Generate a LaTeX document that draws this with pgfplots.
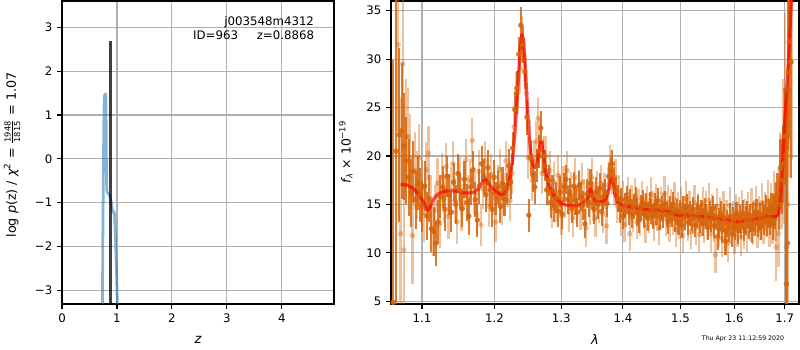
\documentclass[border=0pt]{standalone}
\usepackage{fontspec}
\setmainfont{DejaVu Sans}
\usepackage{pgfplots}
\usepackage{pgfplotstable}
\pgfplotsset{compat=1.18}
\definecolor{orD}{RGB}{214,100,10}
\definecolor{gridgray}{RGB}{176,176,176}
\definecolor{pzblue}{RGB}{31,119,180}

\pgfplotstableread{
l f e
1.0625 4.9 25
1.0665 20.5 16
1.0705 22.2 9
1.0735 22.6 7
1.0765 21.0 5.5
1.0795 19.5 4.5
1.0825 17.8 4
1.0855 16.2 3.5
1.0885 18.4 3.2
1.0915 15.5 3
1.0945 17.2 2.8
1.0975 16.0 2.8
1.1005 14.8 2.6
1.1035 16.9 2.6
1.1065 13.8 2.5
1.1095 15.6 2.4
1.1125 12.5 2.4
1.1155 12.2 2.5
1.1185 11.0 2.3
1.1215 13.2 2.3
1.1245 15.8 2.2
1.1275 16.8 2.2
1.1305 14.5 2.2
1.1335 17.9 2.1
1.1365 16.0 2.1
1.1395 14.2 2.0
1.1425 17.3 2.0
1.1455 15.0 2.0
1.1485 18.2 2.0
1.1515 16.4 1.9
1.1545 14.6 1.9
1.1575 17.6 1.9
1.1605 15.2 1.9
1.1635 13.8 1.9
1.1665 16.8 1.9
1.1695 18.6 1.9
1.1725 15.5 1.8
1.1755 13.4 1.8
1.1785 16.9 1.8
1.1815 19.2 1.8
1.1845 17.9 1.8
1.1875 16.0 1.8
1.1905 18.8 1.8
1.1935 16.5 1.8
1.1965 14.5 1.8
1.1995 17.8 1.8
1.2025 15.6 1.7
1.2055 16.8 1.7
1.2085 14.8 1.7
1.2115 17.2 1.7
1.2145 15.5 1.7
1.2175 16.6 1.7
1.2205 19.0 1.7
1.2235 17.3 1.7
1.2265 20.8 1.7
1.2295 24.8 1.8
1.2325 27.0 1.8
1.2355 30.5 1.8
1.2385 33.5 1.9
1.2415 31.5 1.9
1.2445 28.7 1.8
1.2475 24.0 1.8
1.2505 13.9 1.7
1.2535 19.8 1.7
1.2565 18.0 1.7
1.2595 16.8 1.7
1.2625 19.0 1.7
1.2655 20.5 1.7
1.2685 22.9 1.7
1.2715 20.0 1.7
1.2745 19.0 1.6
1.2775 16.5 1.6
1.2805 17.5 1.6
1.2835 15.2 1.6
1.2865 16.4 1.6
1.2895 14.8 1.6
1.2925 15.7 1.6
1.2955 14.3 1.6
1.2985 16.3 1.6
1.3015 14.0 1.5
1.3045 16.8 1.5
1.3075 17.6 1.5
1.3105 15.5 1.5
1.3135 16.2 1.5
1.3165 14.6 1.5
1.3195 16.9 1.5
1.3225 15.4 1.5
1.3255 14.2 1.5
1.3285 17.0 1.5
1.3315 15.8 1.5
1.3345 14.9 1.5
1.3375 13.0 1.5
1.3405 16.1 1.5
1.3435 15.2 1.5
1.3465 17.2 1.5
1.3495 15.9 1.5
1.3525 14.5 1.5
1.3555 16.3 1.5
1.3585 15.0 1.5
1.3615 16.7 1.5
1.3645 14.3 1.5
1.3675 15.8 1.4
1.3705 16.2 1.4
1.3735 15.1 1.4
1.3765 17.9 1.4
1.3795 18.5 1.4
1.3825 19.2 1.4
1.3855 17.5 1.4
1.3885 16.4 1.4
1.3915 15.6 1.4
1.3945 14.5 1.4
1.3975 15.4 1.3
1.4005 13.8 1.3
1.4035 14.9 1.3
1.4065 15.6 1.3
1.4095 14.2 1.3
1.4125 15.3 1.3
1.4155 13.9 1.3
1.4185 14.8 1.3
1.4215 15.5 1.3
1.4245 14.1 1.3
1.4275 13.4 1.3
1.4305 14.7 1.3
1.4335 15.2 1.3
1.4365 14.0 1.3
1.4395 14.9 1.3
1.4425 13.6 1.3
1.4455 15.0 1.3
1.4485 14.3 1.3
1.4515 13.8 1.3
1.4545 14.9 1.3
1.4575 14.2 1.3
1.4605 15.4 1.3
1.4635 13.7 1.3
1.4665 14.6 1.3
1.4695 13.9 1.3
1.4725 15.1 1.3
1.4755 14.0 1.3
1.4785 13.3 1.3
1.4815 14.6 1.3
1.4845 14.0 1.3
1.4875 15.0 1.3
1.4905 13.5 1.3
1.4935 14.3 1.3
1.4965 13.1 1.3
1.4995 14.2 1.3
1.5025 12.8 1.3
1.5055 14.6 1.3
1.5085 13.7 1.3
1.5115 14.8 1.3
1.5145 13.2 1.3
1.5175 14.1 1.3
1.5205 13.6 1.3
1.5235 14.5 1.3
1.5265 12.9 1.3
1.5295 13.9 1.3
1.5325 14.7 1.3
1.5355 13.4 1.3
1.5385 14.2 1.3
1.5415 13.0 1.3
1.5445 14.4 1.3
1.5475 13.8 1.3
1.5505 12.6 1.3
1.5535 14.1 1.3
1.5565 13.5 1.3
1.5595 14.6 1.3
1.5625 12.8 1.3
1.5655 13.7 1.3
1.5685 11.7 1.4
1.5715 13.2 1.4
1.5745 14.0 1.4
1.5775 12.4 1.4
1.5805 13.6 1.4
1.5835 11.2 1.4
1.5865 13.0 1.4
1.5895 12.5 1.4
1.5925 13.8 1.4
1.5955 12.0 1.4
1.5985 13.3 1.4
1.6015 12.7 1.4
1.6045 13.9 1.4
1.6075 12.3 1.4
1.6105 13.5 1.4
1.6135 12.9 1.4
1.6165 14.1 1.4
1.6195 12.6 1.4
1.6225 13.4 1.4
1.6255 14.0 1.4
1.6285 12.8 1.4
1.6315 13.6 1.4
1.6345 12.4 1.4
1.6375 13.9 1.4
1.6405 13.1 1.4
1.6435 14.2 1.4
1.6465 13.0 1.4
1.6495 13.8 1.4
1.6525 12.7 1.4
1.6555 14.0 1.4
1.6585 13.4 1.5
1.6615 14.5 1.5
1.6645 13.2 1.5
1.6675 14.1 1.5
1.6705 13.5 1.6
1.6735 14.6 1.6
1.6765 13.0 1.7
1.6795 14.3 1.8
1.6825 15.3 2.0
1.6855 16.0 2.2
1.6885 15.0 2.6
1.6915 18.8 3.0
1.6945 17.5 3.5
1.6975 19.2 4.0
1.7005 22.0 5.0
1.7035 6.8 20
1.7055 11.0 15
1.7075 28.6 8
1.7095 31.8 10
1.7125 29.7 12
}\darkD

\pgfplotstableread{
l f e
1.0690 31.5 9
1.0720 12.0 14
1.0748 29.5 7
1.0762 10.3 11
1.0790 22.0 6
1.0815 22.0 5
1.0845 19.8 4.5
1.0875 11.8 5
1.0905 18.5 4
1.0935 17.0 3.5
1.0965 19.8 3.5
1.0995 16.6 3
1.1025 14.1 3
1.1055 18.6 2.8
1.1085 20.3 2.8
1.1115 15.2 2.8
1.1145 12.4 2.7
1.1175 14.4 2.6
1.1205 17.2 2.6
1.1235 13.0 2.5
1.1265 17.8 2.5
1.1295 15.6 2.5
1.1325 18.9 2.4
1.1355 13.8 2.4
1.1385 16.5 2.4
1.1415 19.2 2.3
1.1445 15.4 2.3
1.1475 13.2 2.3
1.1505 17.6 2.3
1.1535 14.5 2.2
1.1565 16.9 2.2
1.1595 19.6 2.2
1.1625 15.8 2.2
1.1655 17.5 2.2
1.1685 21.6 2.3
1.1715 16.2 2.2
1.1745 14.0 2.2
1.1775 18.4 2.2
1.1805 12.9 2.2
1.1835 16.6 2.1
1.1865 19.5 2.1
1.1895 17.2 2.1
1.1925 14.8 2.1
1.1955 18.1 2.1
1.1985 16.0 2.1
1.2015 13.2 2.1
1.2045 17.0 2.1
1.2075 18.6 2.1
1.2105 15.0 2.1
1.2135 16.2 2.1
1.2165 19.5 2.1
1.2195 16.8 2.1
1.2225 15.4 2.1
1.2255 18.2 2.1
1.2285 23.0 2.2
1.2315 26.5 2.2
1.2345 26.6 2.3
1.2375 29.0 2.3
1.2405 32.0 2.4
1.2435 30.0 2.3
1.2465 26.5 2.3
1.2495 19.8 2.2
1.2525 21.5 2.2
1.2555 17.5 2.1
1.2585 19.5 2.1
1.2615 21.5 2.1
1.2645 23.9 2.1
1.2675 21.8 2.1
1.2705 18.2 2.1
1.2735 20.0 2.1
1.2765 20.0 2.1
1.2795 16.8 2.0
1.2825 18.5 2.0
1.2855 14.6 2.0
1.2885 17.4 2.0
1.2915 15.2 2.0
1.2945 18.0 2.0
1.2975 16.1 2.0
1.3005 13.8 2.0
1.3035 17.0 2.0
1.3065 15.6 2.0
1.3095 18.5 2.0
1.3125 14.2 2.0
1.3155 16.4 2.0
1.3185 13.6 2.0
1.3215 17.8 2.0
1.3245 15.0 2.0
1.3275 16.6 2.0
1.3305 14.4 2.0
1.3335 17.3 2.0
1.3365 15.6 2.0
1.3395 12.6 2.0
1.3425 16.8 2.0
1.3455 14.9 2.0
1.3485 17.8 2.0
1.3515 15.3 2.0
1.3545 13.6 2.0
1.3575 16.5 2.0
1.3605 15.0 1.9
1.3635 17.2 1.9
1.3665 14.0 1.9
1.3695 16.4 1.9
1.3725 12.8 1.9
1.3755 17.0 1.9
1.3785 19.2 1.9
1.3815 18.0 1.9
1.3845 16.8 1.9
1.3875 17.8 1.9
1.3905 14.9 1.8
1.3935 16.2 1.8
1.3965 13.5 1.8
1.3995 15.6 1.8
1.4025 12.9 1.8
1.4055 14.5 1.8
1.4085 16.0 1.8
1.4115 12.0 1.8
1.4145 15.2 1.8
1.4175 14.0 1.8
1.4205 15.9 1.8
1.4235 13.2 1.8
1.4265 14.8 1.8
1.4295 13.5 1.8
1.4325 15.6 1.8
1.4355 14.3 1.8
1.4385 12.8 1.8
1.4415 15.1 1.8
1.4445 13.9 1.8
1.4475 16.0 1.8
1.4505 14.6 1.8
1.4535 13.0 1.8
1.4565 15.3 1.8
1.4595 14.1 1.8
1.4625 12.6 1.8
1.4655 15.0 1.8
1.4685 14.4 1.8
1.4715 16.1 1.8
1.4745 13.5 1.8
1.4775 15.2 1.8
1.4805 12.9 1.8
1.4835 14.8 1.8
1.4865 13.6 1.8
1.4895 15.5 1.8
1.4925 12.4 1.8
1.4955 14.5 1.8
1.4985 13.2 1.8
1.5015 15.0 1.8
1.5045 11.8 1.8
1.5075 14.1 1.8
1.5105 15.6 1.8
1.5135 13.0 1.8
1.5165 14.6 1.8
1.5195 12.2 1.8
1.5225 13.8 1.8
1.5255 15.2 1.8
1.5285 12.6 1.8
1.5315 14.4 1.8
1.5345 11.9 1.8
1.5375 13.5 1.8
1.5405 15.0 1.8
1.5435 12.8 1.8
1.5465 14.6 1.8
1.5495 13.2 1.8
1.5525 15.4 1.8
1.5555 12.0 1.9
1.5585 14.2 1.9
1.5615 13.0 1.9
1.5645 9.8 1.9
1.5675 14.8 1.9
1.5705 12.5 1.9
1.5735 13.9 1.9
1.5765 11.5 1.9
1.5795 14.5 1.9
1.5825 12.2 1.9
1.5855 13.6 1.9
1.5885 11.0 1.9
1.5915 14.9 1.9
1.5945 12.8 1.9
1.5975 13.5 1.9
1.6005 11.8 1.9
1.6035 14.2 1.9
1.6065 12.5 1.9
1.6095 13.9 1.9
1.6125 11.6 1.9
1.6155 14.6 1.9
1.6185 12.3 1.9
1.6215 13.7 1.9
1.6245 12.0 1.9
1.6275 14.4 1.9
1.6305 13.1 1.9
1.6335 14.8 1.9
1.6365 12.7 1.9
1.6395 13.6 1.9
1.6425 15.0 1.9
1.6455 12.4 1.9
1.6485 14.0 1.9
1.6515 13.3 2.0
1.6545 15.2 2.0
1.6575 12.9 2.0
1.6605 14.3 2.0
1.6635 13.6 2.0
1.6665 15.4 2.1
1.6695 12.8 2.2
1.6725 14.9 2.3
1.6755 13.4 2.5
1.6785 15.8 2.7
1.6815 14.2 3.0
1.6830 10.6 3.5
1.6875 12.0 3.5
1.6905 18.5 4.0
1.6935 17.0 4.5
1.6960 22.0 6
1.6985 20.0 7
1.7010 26.8 8
1.7035 10.6 9
1.7060 15.0 10
1.7090 26.8 9
1.7140 29.7 10
}\lightD

\pgfplotsset{
  every axis/.append style={
    scale only axis,
    axis line style={line width=0.8pt},
    tick align=outside,
    tick pos=left,
    major tick length=3.5pt,
    minor tick length=0pt,
    every tick/.style={black, line width=0.8pt},
    grid=major,
    major grid style={gridgray, line width=0.8pt},
    tick label style={font=\fontsize{8.5}{10}\selectfont},
    /pgf/number format/assume math mode=true,
  },
}

\begin{document}
\begin{tikzpicture}
\path[use as bounding box] (0,0) rectangle (8in,3.5in);

% ---------------- left panel: p(z)
\begin{axis}[
  at={(0.62in,0.46in)}, anchor=south west,
  width=2.72in, height=3.03in,
  xmin=0, xmax=4.95, ymin=-3.31, ymax=3.6,
  xtick={0,1,2,3,4},
  ytick={-3,-2,-1,0,1,2,3},
  yticklabels={−3,−2,−1,0,1,2,3},
]
\addplot[pzblue, opacity=0.55, line width=2pt, line join=round] coordinates {
(0.735,-3.4) (0.745,-1.5) (0.755,0) (0.765,1.2) (0.775,1.45) (0.79,1.48)
(0.80,1.40) (0.805,0.5) (0.81,-0.5) (0.815,-0.72) (0.83,-0.78) (0.85,-0.8)
(0.87,-0.85) (0.89,-0.95) (0.91,-1.1) (0.925,-1.22) (0.94,-1.2) (0.955,-1.25)
(0.97,-1.7) (0.99,-2.5) (1.01,-3.4)
};
\addplot[black, opacity=0.75, line width=2pt] coordinates {(0.8868,-3.4) (0.8868,2.69)};
\node[anchor=base east, font=\fontsize{8.5}{10}\selectfont] at (axis cs:4.675,3.03) {j003548m4312};
\node[anchor=base east, font=\fontsize{8.5}{10}\selectfont] at (axis cs:4.675,2.73) {ID=963\hspace{1.6em}z=0.8868};
\end{axis}

% ---------------- right panel: spectrum
\begin{axis}[
  at={(3.91in,0.46in)}, anchor=south west,
  width=4.08in, height=3.03in,
  xmode=log,
  xmin=1.0598, xmax=1.7295, ymin=4.73, ymax=36,
  xtick={1.1,1.2,1.3,1.4,1.5,1.6,1.7},
  xticklabels={1.1,1.2,1.3,1.4,1.5,1.6,1.7},
  minor xtick={},
  ytick={5,10,15,20,25,30,35},
]
\addplot[only marks, mark=*, mark size=2pt, color=orD, opacity=0.4,
  mark options={draw opacity=0, fill opacity=0.4},
  error bars/.cd, y dir=both, y explicit, error mark=none,
  error bar style={line width=1.6pt, orD, opacity=0.4}]
  table[x=l, y=f, y error=e] {\lightD};
\addplot[only marks, mark=*, mark size=2pt, color=orD, opacity=0.85,
  mark options={draw opacity=0, fill opacity=0.85},
  error bars/.cd, y dir=both, y explicit, error mark=none,
  error bar style={line width=1.5pt, orD, opacity=0.85}]
  table[x=l, y=f, y error=e] {\darkD};
\addplot[red, opacity=0.7, line width=2.3pt, line join=round] coordinates {
(1.072,17.05) (1.080,17.0) (1.088,16.7) (1.095,16.1) (1.100,15.5) (1.105,14.8)
(1.108,14.4) (1.111,14.8) (1.115,15.5) (1.120,16.0) (1.127,16.3) (1.135,16.4)
(1.145,16.4) (1.155,16.2) (1.165,16.2) (1.172,16.3) (1.178,16.7) (1.183,17.4)
(1.187,17.6) (1.191,17.2) (1.196,16.7) (1.203,16.3) (1.209,16.0) (1.214,16.1)
(1.218,16.6) (1.222,17.6) (1.226,19.5) (1.230,22.5) (1.234,27.0) (1.2375,31.0)
(1.240,32.5) (1.2425,32.0) (1.245,29.5) (1.248,25.5) (1.251,22.0) (1.254,20.0)
(1.257,19.0) (1.260,18.8) (1.263,19.3) (1.266,20.5) (1.268,21.4) (1.270,21.3)
(1.273,20.0) (1.276,18.5) (1.280,17.2) (1.285,16.3) (1.292,15.6) (1.300,15.1)
(1.310,14.9) (1.325,14.9) (1.335,15.1) (1.341,15.6) (1.346,16.6) (1.349,16.2)
(1.353,15.4) (1.358,15.2) (1.366,15.3) (1.372,15.6) (1.376,16.3) (1.379,17.4)
(1.381,17.8) (1.384,17.2) (1.387,16.0) (1.391,15.3) (1.397,15.0) (1.405,14.8)
(1.420,14.7) (1.435,14.5) (1.450,14.4) (1.465,14.4) (1.480,14.2) (1.495,13.9)
(1.510,13.9) (1.530,13.8) (1.550,13.7) (1.570,13.5) (1.590,13.4) (1.605,13.2)
(1.612,13.25) (1.625,13.4) (1.640,13.5) (1.655,13.7) (1.665,13.8) (1.675,13.7)
(1.684,13.8) (1.688,14.2) (1.691,15.5) (1.694,17.5) (1.697,20.5) (1.700,23.5)
(1.703,26.0) (1.706,28.5) (1.709,31.0) (1.712,34.0) (1.714,36.5)
};
\end{axis}

% labels
\node[font=\fontsize{9.5}{11}\selectfont] at (1.98in,0.10in) {\itshape z};
\node[font=\fontsize{9.5}{11}\selectfont] at (5.95in,0.10in) {\itshape λ};
\node[rotate=90, font=\fontsize{9.2}{11}\selectfont] at (0.12in,1.95in)
  {log {\itshape p}(z) / {\itshape χ}\textsuperscript{2} = $\frac{\mbox{\fontsize{6}{7}\selectfont 1948}}{\mbox{\fontsize{6}{7}\selectfont 1815}}$ = 1.07};
\node[rotate=90, font=\fontsize{9}{11}\selectfont] at (3.46in,1.98in)
  {{\itshape f}\textsubscript{\itshape λ} × 10\textsuperscript{−19}};
\node[font=\fontsize{4.5}{5}\selectfont] at (7.43in,0.11in) {Thu Apr 23 11:12:59 2020};
\end{tikzpicture}
\end{document}
